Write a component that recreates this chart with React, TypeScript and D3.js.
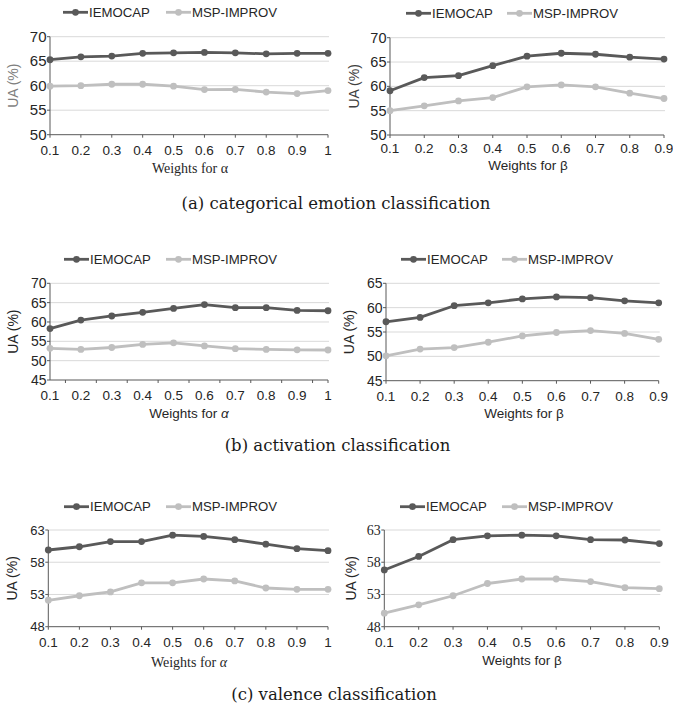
import React from "react";
import * as d3 from "d3";

// ---------- data ----------
const alphaWeights = ["0.1", "0.2", "0.3", "0.4", "0.5", "0.6", "0.7", "0.8", "0.9", "1"];
const betaWeights = ["0.1", "0.2", "0.3", "0.4", "0.5", "0.6", "0.7", "0.8", "0.9"];
const seriesNames = ["IEMOCAP", "MSP-IMPROV"];

// (a) categorical emotion classification
const catAlphaIemocap = [65.3, 65.9, 66.05, 66.6, 66.7, 66.8, 66.7, 66.5, 66.6, 66.6];
const catAlphaMsp = [59.9, 60.0, 60.3, 60.3, 59.9, 59.2, 59.25, 58.7, 58.4, 59.0];
const catBetaIemocap = [59.1, 61.8, 62.2, 64.25, 66.2, 66.8, 66.6, 66.0, 65.6];
const catBetaMsp = [55.0, 56.0, 57.0, 57.7, 59.9, 60.3, 59.9, 58.6, 57.5];
const catTicks = [50, 55, 60, 65, 70];

// (b) activation classification
const actAlphaIemocap = [58.3, 60.5, 61.55, 62.5, 63.5, 64.5, 63.7, 63.7, 63.0, 62.9];
const actAlphaMsp = [53.2, 52.9, 53.4, 54.2, 54.6, 53.8, 53.1, 52.9, 52.8, 52.75];
const actBetaIemocap = [57.1, 58.0, 60.4, 61.0, 61.8, 62.2, 62.05, 61.4, 61.0];
const actBetaMsp = [50.1, 51.5, 51.8, 52.9, 54.2, 54.9, 55.3, 54.7, 53.5];
const actAlphaTicks = [45, 50, 55, 60, 65, 70];
const actBetaTicks = [45, 50, 55, 60, 65];

// (c) valence classification
const valAlphaIemocap = [59.9, 60.4, 61.2, 61.2, 62.2, 62.0, 61.5, 60.8, 60.1, 59.8];
const valAlphaMsp = [52.1, 52.8, 53.4, 54.8, 54.8, 55.4, 55.1, 54.0, 53.8, 53.8];
const valBetaIemocap = [56.8, 58.9, 61.5, 62.1, 62.2, 62.1, 61.5, 61.45, 60.9];
const valBetaMsp = [50.1, 51.4, 52.8, 54.7, 55.4, 55.4, 55.0, 54.05, 53.9];
const valTicks = [48, 53, 58, 63];

const captions = [
  "(a) categorical emotion classification",
  "(b) activation classification",
  "(c) valence classification",
];

// ---------- styles ----------
const SANS = "'Liberation Sans', Arial, sans-serif";
const SERIF = "'Liberation Serif', 'Times New Roman', serif";
const CAPTION_FONT = "'DejaVu Serif', serif";
const COLORS = ["#595959", "#bfbfbf"];
const GRID = "#d9d9d9";
const AXIS = "#595959";
const TEXT = "#262626";

type Panel = {
  cats: string[];
  series: number[][];
  ticks: number[];
  left: number; right: number; top: number; bottom: number;
  legendY: number; legendX: number[];
  xLabelX: number; xLabelY: number; xLabelSym: string; xLabelFont: string; symItalic: boolean;
  yLabelX: number; yLabelColor: string;
  tickY: number; xTickBetween: boolean; yTickFont: string; yTickSize: number;
};

const panels: Panel[] = [
  {
    cats: alphaWeights, series: [catAlphaIemocap, catAlphaMsp], ticks: catTicks,
    left: 50, right: 328, top: 36.7, bottom: 134.7,
    legendY: 12.3, legendX: [63, 166],
    xLabelX: 190, xLabelY: 168, xLabelSym: "α", xLabelFont: SERIF, symItalic: false,
    yLabelX: 13, yLabelColor: "#7f7f7f",
    tickY: 150, xTickBetween: false, yTickFont: SANS, yTickSize: 15,
  },
  {
    cats: betaWeights, series: [catBetaIemocap, catBetaMsp], ticks: catTicks,
    left: 390, right: 664, top: 37.7, bottom: 135,
    legendY: 13.3, legendX: [406, 507],
    xLabelX: 528, xLabelY: 165, xLabelSym: "β", xLabelFont: SANS, symItalic: false,
    yLabelX: 354, yLabelColor: "#404040",
    tickY: 148, xTickBetween: false, yTickFont: SANS, yTickSize: 14.5,
  },
  {
    cats: alphaWeights, series: [actAlphaIemocap, actAlphaMsp], ticks: actAlphaTicks,
    left: 50, right: 328, top: 283.3, bottom: 380,
    legendY: 259.3, legendX: [64, 166],
    xLabelX: 189, xLabelY: 413, xLabelSym: "α", xLabelFont: SANS, symItalic: true,
    yLabelX: 13, yLabelColor: "#262626",
    tickY: 395, xTickBetween: true, yTickFont: SANS, yTickSize: 14,
  },
  {
    cats: betaWeights, series: [actBetaIemocap, actBetaMsp], ticks: actBetaTicks,
    left: 386, right: 658.7, top: 283.3, bottom: 380.7,
    legendY: 259.3, legendX: [401, 502],
    xLabelX: 524, xLabelY: 413, xLabelSym: "β", xLabelFont: SANS, symItalic: false,
    yLabelX: 349, yLabelColor: "#262626",
    tickY: 396, xTickBetween: false, yTickFont: SANS, yTickSize: 14,
  },
  {
    cats: alphaWeights, series: [valAlphaIemocap, valAlphaMsp], ticks: valTicks,
    left: 48.3, right: 328, top: 530, bottom: 626.7,
    legendY: 506.7, legendX: [64, 166],
    xLabelX: 189, xLabelY: 661.7, xLabelSym: "α", xLabelFont: SERIF, symItalic: true,
    yLabelX: 12, yLabelColor: "#262626",
    tickY: 642.7, xTickBetween: false, yTickFont: SANS, yTickSize: 13,
  },
  {
    cats: betaWeights, series: [valBetaIemocap, valBetaMsp], ticks: valTicks,
    left: 384.3, right: 659.3, top: 530, bottom: 626.7,
    legendY: 506.7, legendX: [400, 502],
    xLabelX: 522, xLabelY: 660, xLabelSym: "β", xLabelFont: SANS, symItalic: false,
    yLabelX: 351, yLabelColor: "#262626",
    tickY: 642.7, xTickBetween: false, yTickFont: SERIF, yTickSize: 14,
  },
];

const captionPos = [
  { x: 336, y: 209 },
  { x: 337.5, y: 450.5 },
  { x: 334, y: 700 },
];

function ChartPanel({ p }: { p: Panel }) {
  const x = d3.scalePoint<string>().domain(p.cats).range([p.left, p.right]).padding(0);
  const y = d3
    .scaleLinear()
    .domain([p.ticks[0], p.ticks[p.ticks.length - 1]])
    .range([p.bottom, p.top]);
  const line = d3
    .line<number>()
    .x((_, i) => x(p.cats[i]) as number)
    .y((v) => y(v));
  const step = x.step();
  const xTickPositions = p.xTickBetween
    ? p.cats.slice(0, -1).map((c) => (x(c) as number) + step / 2).concat([p.right])
    : p.cats.map((c) => x(c) as number);

  return (
    <g>
      {/* gridlines */}
      {p.ticks.slice(1).map((t) => (
        <line key={"g" + t} x1={p.left} x2={p.right + 1} y1={y(t)} y2={y(t)} stroke={GRID} strokeWidth={1} />
      ))}
      {/* y axis */}
      <line x1={p.left} x2={p.left} y1={p.top} y2={p.bottom} stroke={AXIS} strokeWidth={1} />
      {p.ticks.map((t) => (
        <g key={"yt" + t}>
          <line x1={p.left - 3} x2={p.left} y1={y(t)} y2={y(t)} stroke={AXIS} strokeWidth={1} />
          <text
            x={p.left - 3.5}
            y={y(t)}
            dy="0.35em"
            textAnchor="end"
            fontFamily={p.yTickFont}
            fontSize={p.yTickSize}
            fill={TEXT}
          >
            {t}
          </text>
        </g>
      ))}
      {/* x axis */}
      <line x1={p.left} x2={p.right} y1={p.bottom} y2={p.bottom} stroke={AXIS} strokeWidth={1} />
      {xTickPositions.map((xx, i) => (
        <line key={"xt" + i} x1={xx} x2={xx} y1={p.bottom} y2={p.bottom + 3} stroke={AXIS} strokeWidth={1} />
      ))}
      {p.cats.map((c) => (
        <text
          key={"xl" + c}
          x={x(c)}
          y={p.tickY}
          dy="0.35em"
          textAnchor="middle"
          fontFamily={SANS}
          fontSize={13.5}
          fill={TEXT}
        >
          {c}
        </text>
      ))}
      {/* axis titles */}
      <text
        x={p.xLabelX}
        y={p.xLabelY}
        dy="0.35em"
        textAnchor="middle"
        fontFamily={p.xLabelFont}
        fontSize={p.xLabelFont === SERIF ? 14 : 13.5}
        fill={TEXT}
      >
        {"Weights for "}
        <tspan fontStyle={p.symItalic ? "italic" : "normal"}>{p.xLabelSym}</tspan>
      </text>
      <text
        transform={`translate(${p.yLabelX},${(p.top + p.bottom) / 2}) rotate(-90)`}
        dy="0.35em"
        textAnchor="middle"
        fontFamily={SANS}
        fontSize={14}
        fill={p.yLabelColor}
      >
        UA (%)
      </text>
      {/* series */}
      {p.series.map((s, si) => (
        <g key={"s" + si}>
          <path d={line(s) || ""} fill="none" stroke={COLORS[si]} strokeWidth={2.8} strokeLinejoin="round" />
          {s.map((v, i) => (
            <circle key={i} cx={x(p.cats[i])} cy={y(v)} r={3.4} fill={COLORS[si]} />
          ))}
        </g>
      ))}
      {/* legend */}
      {seriesNames.map((name, si) => {
        const lx = p.legendX[si];
        return (
          <g key={"lg" + si}>
            <line x1={lx} x2={lx + 25} y1={p.legendY} y2={p.legendY} stroke={COLORS[si]} strokeWidth={2.8} />
            <circle cx={lx + 12.5} cy={p.legendY} r={3.4} fill={COLORS[si]} />
            <text
              x={lx + 26}
              y={p.legendY}
              dy="0.36em"
              fontFamily={SANS}
              fontSize={13.2}
              fill={TEXT}
            >
              {name}
            </text>
          </g>
        );
      })}
    </g>
  );
}

export default function App() {
  return (
    <svg
      width={673}
      height={709}
      viewBox="0 0 673 709"
      style={{ position: "absolute", left: 0, top: 0, background: "#ffffff" }}
    >
      <rect x={0} y={0} width={673} height={709} fill="#ffffff" />
      {panels.map((p, i) => (
        <ChartPanel key={i} p={p} />
      ))}
      {captions.map((c, i) => (
        <text
          key={"cap" + i}
          x={captionPos[i].x}
          y={captionPos[i].y}
          textAnchor="middle"
          fontFamily={CAPTION_FONT}
          fontSize={16.5}
          fill="#1a1a1a"
        >
          {c}
        </text>
      ))}
    </svg>
  );
}
